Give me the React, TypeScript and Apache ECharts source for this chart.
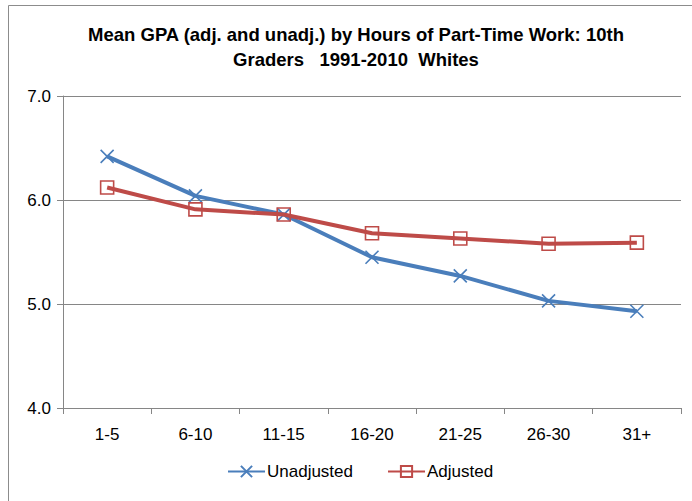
import React, { useEffect, useRef } from "react";
import * as echarts from "echarts";

const categories = ["1-5", "6-10", "11-15", "16-20", "21-25", "26-30", "31+"];
const unadjusted = [6.42, 6.04, 5.86, 5.45, 5.27, 5.03, 4.93];
const adjusted = [6.12, 5.91, 5.86, 5.68, 5.63, 5.58, 5.59];
const titleText = "Mean GPA (adj. and unadj.) by Hours of Part-Time Work: 10th\nGraders   1991-2010  Whites";

const BLUE = "#4A7EBB";
const RED = "#BE4B48";
const GRID = "#868686";
const FONT = "'Liberation Sans', Arial, sans-serif";

export default function App() {
  const ref = useRef<HTMLDivElement>(null);
  useEffect(() => {
    if (!ref.current) return;
    const chart = echarts.init(ref.current, undefined, { renderer: "svg" });
    chart.setOption({
      animation: false,
      backgroundColor: "#ffffff",
      textStyle: { fontFamily: FONT },
      graphic: [
        {
          type: "rect",
          shape: { x: 8.5, y: 5.5, width: 720, height: 540 },
          style: { fill: "none", stroke: "#8c8c8c", lineWidth: 1 },
          silent: true,
          z: -1,
        },
      ],
      title: {
        text: titleText,
        left: 351,
        textAlign: "center",
        top: 17,
        textStyle: {
          fontFamily: FONT,
          fontSize: 18.5,
          fontWeight: "bold",
          color: "#000000",
          lineHeight: 25,
        },
      },
      legend: {
        bottom: 16,
        left: 222,
        itemWidth: 37,
        itemHeight: 14,
        itemGap: 34,
        textStyle: { fontFamily: FONT, fontSize: 17, color: "#000", padding: [0, 0, 0, -3] },
        data: ["Unadjusted", "Adjusted"],
      },
      grid: {
        left: 63,
        right: 11,
        top: 96,
        bottom: 93,
        containLabel: false,
        outerBoundsMode: "none",
      },
      xAxis: {
        type: "category",
        data: categories,
        boundaryGap: true,
        axisLine: { lineStyle: { color: GRID, width: 1 } },
        axisTick: { show: true, length: 6, lineStyle: { color: GRID } },
        axisLabel: { fontFamily: FONT, fontSize: 17, color: "#000", margin: 18 },
        splitLine: { show: false },
      },
      yAxis: {
        type: "value",
        min: 4,
        max: 7,
        interval: 1,
        axisLine: { show: true, lineStyle: { color: GRID, width: 1 } },
        axisTick: { show: true, length: 6, lineStyle: { color: GRID } },
        axisLabel: {
          fontFamily: FONT,
          fontSize: 17,
          color: "#000",
          margin: 12,
          formatter: (v: number) => v.toFixed(1),
        },
        splitLine: { show: true, lineStyle: { color: GRID, width: 1 } },
      },
      series: [
        {
          name: "Unadjusted",
          type: "line",
          data: unadjusted,
          symbol: "path://M0,0L10,10M10,0L0,10",
          symbolSize: 13,
          showSymbol: true,
          lineStyle: { color: BLUE, width: 4 },
          itemStyle: { color: "none", borderColor: BLUE, borderWidth: 1.6 },
          emphasis: { disabled: true },
          z: 2,
        },
        {
          name: "Adjusted",
          type: "line",
          data: adjusted,
          symbol: "rect",
          symbolSize: 13,
          showSymbol: true,
          lineStyle: { color: RED, width: 4 },
          itemStyle: { color: "none", borderColor: RED, borderWidth: 1.6 },
          emphasis: { disabled: true },
          z: 3,
        },
      ],
    });
    return () => chart.dispose();
  }, []);
  return (
    <div
      ref={ref}
      style={{ position: "absolute", left: 0, top: 0, width: 692, height: 501 }}
    />
  );
}
